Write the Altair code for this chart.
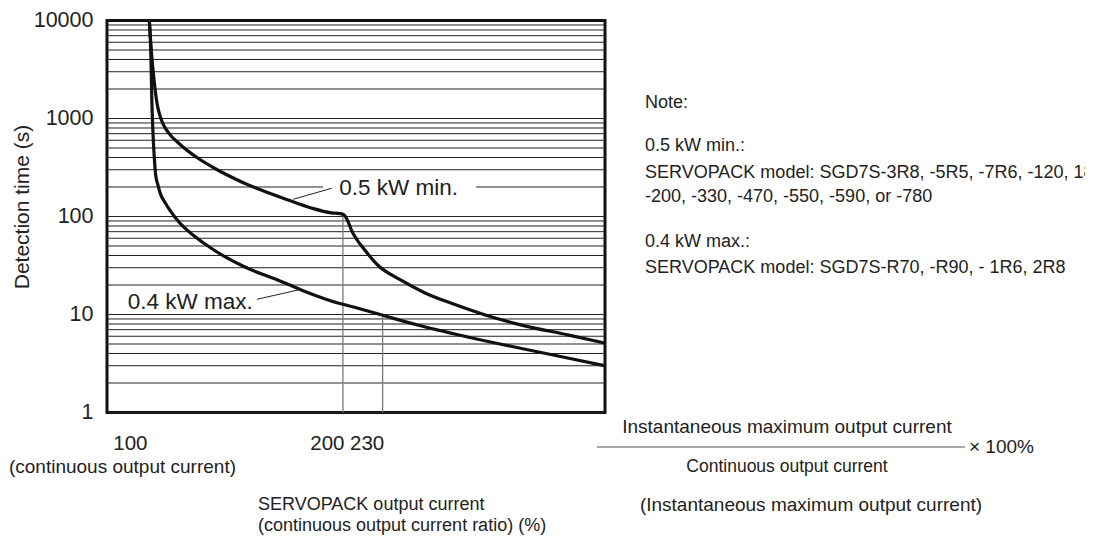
import altair as alt
import pandas as pd

# ---------------- data ----------------
# 0.5 kW min. curve: output current (%) vs detection time (s)
min05_current = [101.2, 101.9, 102.9, 104.1, 105.2, 106.2, 108, 113, 120, 127.5, 138, 150,
                 165, 179, 192, 198, 200.7, 203.5, 206.4, 209.4, 216, 226, 245, 267, 293,
                 330, 375, 441, 503]
min05_time = [10000, 5000, 2470, 1370, 1040, 880, 730, 537, 395, 309, 236, 186,
              147, 122, 109, 107, 104, 90, 71, 60, 45.5, 32, 22.5, 16.6, 13.0,
              9.9, 7.8, 6.2, 5.1]

# 0.4 kW max. curve
max04_current = [101.2, 101.8, 102.1, 102.5, 103.0, 103.5, 104.3, 105, 107.3, 110.7, 114.7,
                 117.6, 127, 141.7, 159, 175, 196.5, 211, 228, 260, 310, 375, 441, 503]
max04_time = [10000, 3950, 1545, 728, 395, 265, 210, 178, 134, 99, 76,
              66, 45.5, 30.5, 22.5, 17.2, 13.1, 11.6, 10.0, 7.8, 5.9, 4.5, 3.6, 3.0]

x_ticks = [100, 200, 230]
y_ticks = [1, 10, 100, 1000, 10000]

# reference verticals: current and the detection time where they meet a curve
ref_current = [200, 230]
ref_time_top = [105, 10]

# annotation labels and leader lines (data units)
label_text = ["0.5 kW min.", "0.4 kW max."]
label_current = [197.5, 93.8]
label_time = [196, 13.5]
leader_x1 = [168, 147.8]
leader_y1 = [150, 14.3]
leader_x2 = [192.2, 170.9]
leader_y2 = [194, 17.8]

X_DOMAIN = [87.2, 503]
Y_DOMAIN = [1, 10000]
GAP = [186.5, 319.6]  # gridline 200 interrupted behind "0.5 kW min."

FONT = "Liberation Sans"
INK = "#222222"

# ---------------- tables ----------------
curves = pd.DataFrame({
    "current": min05_current + max04_current,
    "time": min05_time + max04_time,
    "series": ["0.5 kW min."] * len(min05_current) + ["0.4 kW max."] * len(max04_current),
})

grid_rows = []
for dec in [1, 10, 100, 1000]:
    for m in range(1, 10):
        v = dec * m
        if v == 200:
            grid_rows.append({"g": v, "x0": X_DOMAIN[0], "x1": GAP[0]})
            grid_rows.append({"g": v, "x0": GAP[1], "x1": X_DOMAIN[1]})
        else:
            grid_rows.append({"g": v, "x0": X_DOMAIN[0], "x1": X_DOMAIN[1]})
grid = pd.DataFrame(grid_rows)

vref = pd.DataFrame({"current": ref_current, "top": ref_time_top, "bottom": [1, 1]})
labels = pd.DataFrame({"text": label_text, "current": label_current, "time": label_time})
leaders = pd.DataFrame({"x1": leader_x1, "y1": leader_y1, "x2": leader_x2, "y2": leader_y2})

xs = alt.Scale(type="log", domain=X_DOMAIN, nice=False)
ys = alt.Scale(type="log", domain=Y_DOMAIN, nice=False)

X_AXIS = alt.Axis(values=x_ticks, labelOffset=-16, ticks=False, domain=False, grid=False,
                  labelPadding=21, labelFontSize=20.5, format="d", title=None,
                  labelColor=INK, labelFont=FONT)
Y_AXIS = alt.Axis(values=y_ticks, ticks=False, domain=False, grid=False, format="d",
                  labelPadding=14, labelFontSize=21.5, labelColor=INK, labelFont=FONT,
                  title="Detection time (s)", titleFontSize=21, titleFontWeight="normal",
                  titleFont=FONT, titleColor=INK, titleAngle=270, titleX=-85, titleY=186,
                  titleAlign="center", titleBaseline="middle")


def X(field):
    return alt.X(field, scale=xs, axis=X_AXIS, title=None)


def Y(field):
    return alt.Y(field, scale=ys, axis=Y_AXIS, title="Detection time (s)")


# ---------------- layers ----------------
grid_layer = alt.Chart(grid).mark_rule(color="#222222", strokeWidth=1).encode(
    x=X("x0:Q"), x2="x1:Q", y=Y("g:Q"),
)

vref_layer = alt.Chart(vref).mark_rule(color="#7a7a7a", strokeWidth=1.3).encode(
    x=X("current:Q"), y=Y("top:Q"), y2="bottom:Q",
)

curve_layer = alt.Chart(curves).mark_line(color="#111111", strokeWidth=3.2, interpolate="monotone").encode(
    x=X("current:Q"), y=Y("time:Q"), detail="series:N",
)

leader_layer = alt.Chart(leaders).mark_rule(color="#222222", strokeWidth=1).encode(
    x=X("x1:Q"), y=Y("y1:Q"), x2="x2:Q", y2="y2:Q",
)

label_layer = alt.Chart(labels).mark_text(
    align="left", baseline="middle", fontSize=22.5, font=FONT, color=INK
).encode(
    x=X("current:Q"), y=Y("time:Q"), text="text:N",
)

ONE = alt.Data(values=[{}])


def txt(s, x, y, align="left", size=18):
    return alt.Chart(ONE).mark_text(
        text=s, align=align, baseline="middle", fontSize=size, font=FONT, color=INK
    ).encode(x=alt.value(x), y=alt.value(y))


notes = [
    txt("Note:", 538, 82),
    txt("0.5 kW min.:", 538, 125.5),
    txt("SERVOPACK model: SGD7S-3R8, -5R5, -7R6, -120, 180,", 538, 152),
    txt("-200, -330, -470, -550, -590, or -780", 538, 176),
    txt("0.4 kW max.:", 538, 221),
    txt("SERVOPACK model: SGD7S-R70, -R90, - 1R6, 2R8", 538, 247),
    txt("Instantaneous maximum output current", 680, 406.5, align="center", size=19),
    txt("× 100%", 862, 426.5, size=19),
    txt("Continuous output current", 680, 446.5, align="center", size=17.5),
    txt("(Instantaneous maximum output current)", 704, 484.5, align="center", size=19),
    txt("SERVOPACK output current", 151, 484.5, size=18),
    txt("(continuous output current ratio) (%)", 151, 505, size=18),
    txt("(continuous output current)", 129, 446.5, align="right", size=19),
]

frac_line = alt.Chart(ONE).mark_rule(color="#8a8a8a", strokeWidth=1.5).encode(
    x=alt.value(490), x2=alt.value(858), y=alt.value(426.5)
)

chart = alt.layer(
    grid_layer, vref_layer, curve_layer, leader_layer, label_layer, frac_line, *notes
).properties(
    width=498,
    height=392,
    autosize=alt.AutoSizeParams(type="none"),
    padding={"left": 99, "top": 12.5, "right": 480, "bottom": 122.5},
    background="white",
).configure_view(
    stroke="#111111", strokeWidth=3
)

chart.save("out.html", embed_options={"renderer": "svg", "actions": False})
